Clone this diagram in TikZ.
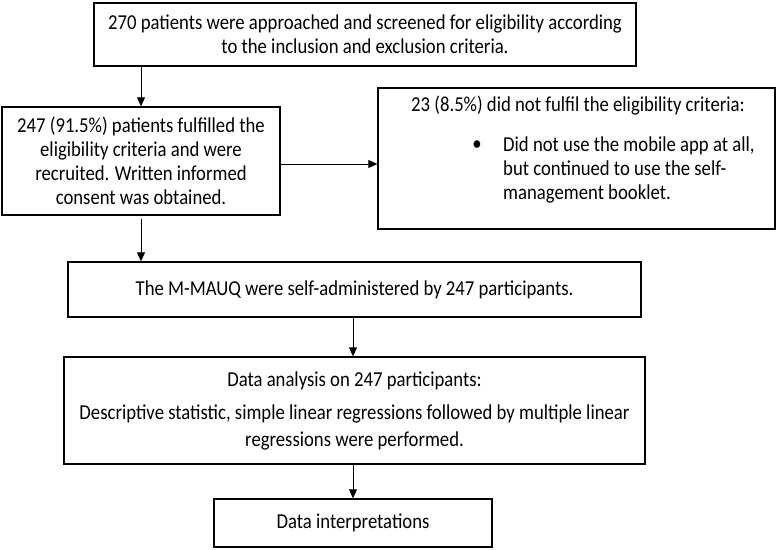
\documentclass[tikz,border=0pt]{standalone}
\usepackage{fontspec}
\setmainfont{Carlito}[FakeStretch=0.88]
\usetikzlibrary{arrows.meta}
\begin{document}
\begin{tikzpicture}[x=1bp,y=-1bp,
  box/.style={draw, line width=1.3bp, inner sep=0pt, align=center},
  txt/.style={inner sep=0pt, font=\fontsize{21.25bp}{24bp}\selectfont},
  btxt/.style={inner sep=0pt, font=\fontsize{21.25bp}{27bp}\selectfont},
  arr/.style={line width=0.9bp, -{Triangle[length=9bp,width=8bp]}}]
\useasboundingbox (0,0) rectangle (777,550);
\node[box, txt, minimum width=542bp, minimum height=63bp] (b1) at (365,34.5)
  {270 patients were approached and screened for eligibility according\\to the inclusion and exclusion criteria.};
\node[box, txt, minimum width=278bp, minimum height=108bp] (b2) at (141,161)
  {247 (91.5\%) patients fulfilled the\\eligibility criteria and were\\recruited. Written informed\\consent was obtained.};
\node[box, minimum width=397bp, minimum height=141bp] (b3) at (576.5,158.5) {};
\node[txt, anchor=west] (b3h) at (411,106) {23 (8.5\%) did not fulfil the eligibility criteria:};
\node[txt, anchor=center] (b3b) at (477,146) {•};
\node[txt, anchor=west, align=left] (b3t) at (503,170)
  {Did not use the mobile app at all,\\but continued to use the self-\\management booklet.};
\node[box, txt, minimum width=573bp, minimum height=55bp] (b4) at (354.5,289.5)
  {The M-MAUQ were self-administered by 247 participants.};
\node[box, btxt, minimum width=581bp, minimum height=107bp] (b5) at (354.5,410.5)
  {Data analysis on 247 participants:\\[6bp]Descriptive statistic, simple linear regressions followed by multiple linear\\regressions were performed.};
\node[box, txt, minimum width=278bp, minimum height=48bp] (b6) at (353,523)
  {Data interpretations};
\draw[arr] (b2.north |- b1.south) -- (b2.north);
\draw[arr] ([yshift=-3bp]b2.east) -- ([yshift=-3bp]b2.east -| b3.west);
\draw[arr] ([yshift=-3bp]b2.south) -- (b2.south |- b4.north);
\draw[arr] (b4.south -| b6.north) -- (b6.north |- b5.north);
\draw[arr] (b6.north |- b5.south) -- (b6.north);
\end{tikzpicture}
\end{document}
